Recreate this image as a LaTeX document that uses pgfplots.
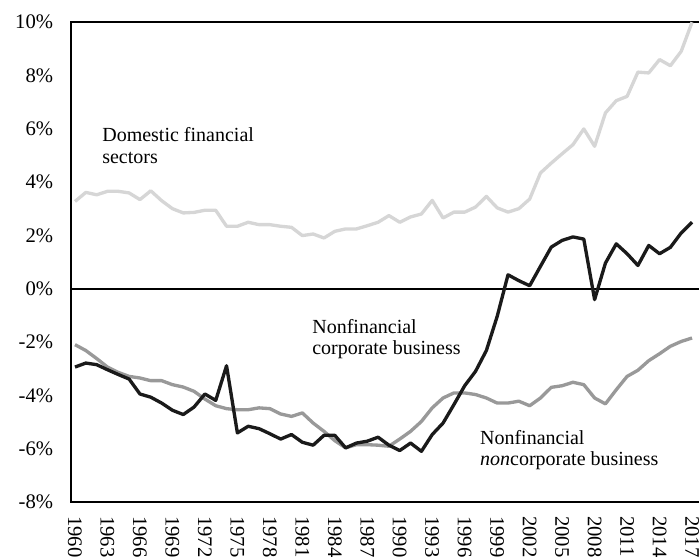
\documentclass[border=0pt]{standalone}
\usepackage{fontspec}
\setmainfont{Liberation Serif}
\usepackage{pgfplots}
\pgfplotsset{compat=1.18}

\definecolor{finclr}{HTML}{D6D6D6}
\definecolor{nonclr}{HTML}{999999}
\definecolor{corpclr}{HTML}{1A1A1A}

% one row per year, 1960-2017
\pgfplotstableread{
year dom corp noncorp
1960 3.27 -2.94 -2.10
1961 3.61 -2.79 -2.32
1962 3.52 -2.85 -2.62
1963 3.65 -3.04 -2.94
1964 3.65 -3.22 -3.14
1965 3.59 -3.39 -3.29
1966 3.34 -3.95 -3.35
1967 3.67 -4.07 -3.45
1968 3.30 -4.29 -3.45
1969 3.00 -4.56 -3.60
1970 2.84 -4.72 -3.69
1971 2.86 -4.44 -3.85
1972 2.94 -3.95 -4.14
1973 2.94 -4.19 -4.39
1974 2.34 -2.89 -4.50
1975 2.34 -5.41 -4.54
1976 2.49 -5.16 -4.54
1977 2.40 -5.25 -4.47
1978 2.40 -5.44 -4.50
1979 2.34 -5.64 -4.70
1980 2.30 -5.47 -4.79
1981 1.99 -5.76 -4.66
1982 2.05 -5.87 -5.04
1983 1.90 -5.50 -5.35
1984 2.15 -5.50 -5.70
1985 2.24 -5.97 -5.97
1986 2.24 -5.79 -5.85
1987 2.36 -5.72 -5.85
1988 2.49 -5.57 -5.87
1989 2.74 -5.87 -5.91
1990 2.49 -6.07 -5.64
1991 2.69 -5.79 -5.35
1992 2.80 -6.10 -4.98
1993 3.31 -5.47 -4.47
1994 2.65 -5.04 -4.10
1995 2.87 -4.35 -3.91
1996 2.87 -3.64 -3.91
1997 3.06 -3.10 -3.97
1998 3.46 -2.32 -4.10
1999 3.03 -1.04 -4.29
2000 2.87 0.52 -4.29
2001 3.00 0.30 -4.22
2002 3.36 0.11 -4.39
2003 4.34 0.84 -4.10
2004 4.71 1.56 -3.70
2005 5.06 1.81 -3.64
2006 5.40 1.94 -3.51
2007 5.99 1.86 -3.60
2008 5.34 -0.41 -4.10
2009 6.59 0.96 -4.32
2010 7.05 1.68 -3.79
2011 7.21 1.31 -3.29
2012 8.12 0.87 -3.06
2013 8.09 1.62 -2.70
2014 8.59 1.31 -2.44
2015 8.36 1.55 -2.16
2016 8.90 2.09 -1.98
2017 9.99 2.49 -1.85
}\lendtable

\begin{document}
\begin{tikzpicture}
\begin{axis}[
  at={(0,0)}, anchor=south west,
  x=8.119pt, y=20pt,
  xmin=1959.6, xmax=2018.5,
  ymin=-8, ymax=10,
  axis line style={black, line width=1.6pt},
  major tick length=0pt,
  xtick={1960,1963,...,2017},
  ytick={-8,-6,...,10},
  /pgf/number format/1000 sep={},
  /pgf/number format/assume math mode=true,
  yticklabel={\pgfmathprintnumber{\tick}\%},
  ticklabel style={font=\fontsize{15.5}{17}\selectfont},
  yticklabel style={anchor=east, inner sep=0pt},
  yticklabel shift=13pt,
  xticklabel style={rotate=-90, anchor=west, inner sep=0pt},
  xticklabel shift=10.5pt,
  every axis plot/.append style={line join=round},
]
\draw[black, line width=1.6pt] (axis cs:1959.6,0) -- (axis cs:2018.5,0);
\addplot[finclr, line width=2.5pt] table[x=year, y=dom] \lendtable;
\addplot[nonclr, line width=2.5pt] table[x=year, y=noncorp] \lendtable;
\addplot[corpclr, line width=2.5pt] table[x=year, y=corp] \lendtable;

\node[anchor=north west, align=left, inner sep=0pt, font=\fontsize{15}{16}\selectfont]
  at (axis cs:1962.5,6.04) {Domestic financial\\sectors};
\node[anchor=north west, align=left, inner sep=0pt, font=\fontsize{15}{16}\selectfont]
  at (axis cs:1981.9,-1.14) {Nonfinancial\\corporate business};
\node[anchor=north west, align=left, inner sep=0pt, font=\fontsize{15}{16}\selectfont]
  at (axis cs:1997.4,-5.31) {Nonfinancial\\\textit{non}corporate business};
\end{axis}
\pgfresetboundingbox
\path[use as bounding box] (-53pt,-42.75pt) rectangle (471.25pt,376.5pt);
\end{tikzpicture}
\end{document}
